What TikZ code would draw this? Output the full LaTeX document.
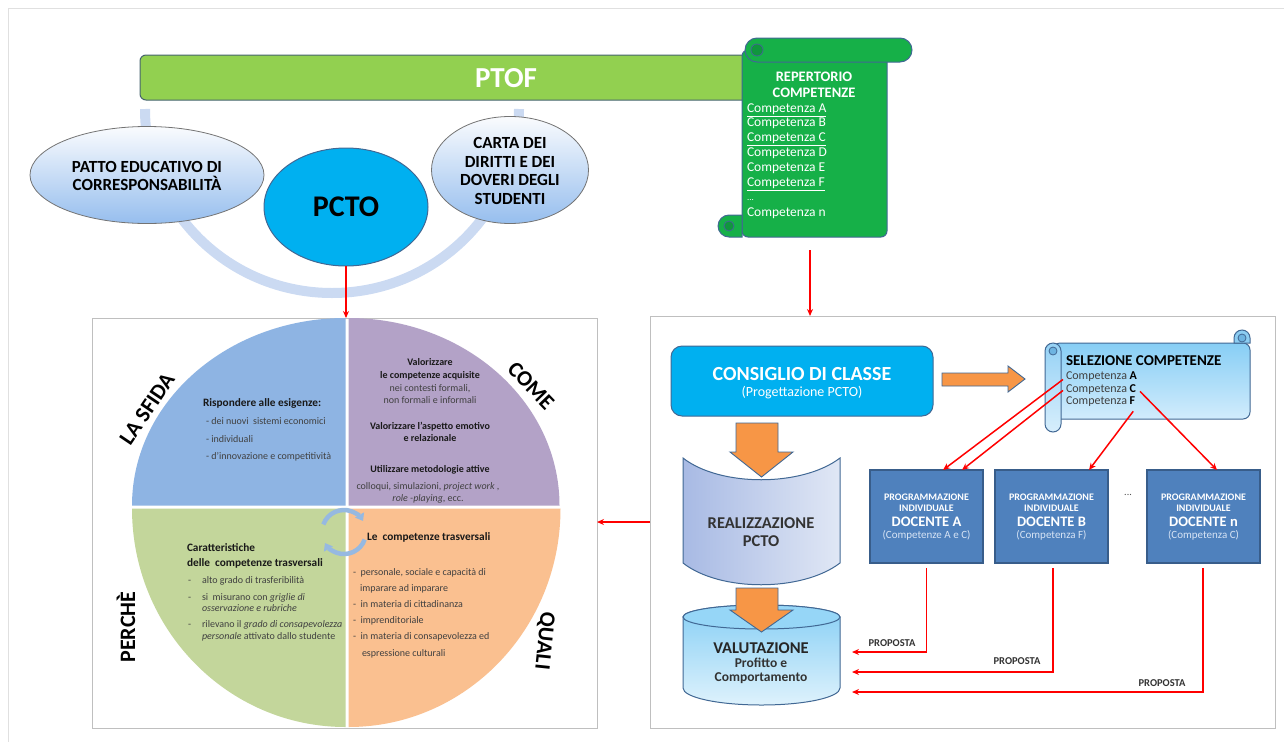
\documentclass[tikz,border=0pt]{standalone}
\usepackage{fontspec}
\setmainfont{Carlito}
\usetikzlibrary{arrows.meta,shapes.geometric,calc}
\definecolor{ptofgreen}{RGB}{146,208,80}
\definecolor{ptofedge}{RGB}{70,100,110}
\definecolor{scrollgreen}{RGB}{22,176,72}
\definecolor{scrolldark}{RGB}{16,150,62}
\definecolor{edgeblue}{RGB}{65,104,148}
\definecolor{pctocyan}{RGB}{0,176,240}
\definecolor{haloblue}{RGB}{203,218,242}
\definecolor{qblue}{RGB}{142,180,227}
\definecolor{qpurple}{RGB}{179,162,199}
\definecolor{qgreen}{RGB}{195,214,155}
\definecolor{qorange}{RGB}{250,192,144}
\definecolor{cycblue}{RGB}{150,185,225}
\definecolor{arrorange}{RGB}{247,150,70}
\definecolor{docblue}{RGB}{79,129,189}
\definecolor{docedge}{RGB}{56,93,138}
\definecolor{docsub}{RGB}{215,228,245}
\definecolor{linered}{RGB}{255,0,0}
\definecolor{framegray}{RGB}{191,191,191}
\definecolor{txtgray}{RGB}{64,64,64}
\newcommand\fsz[2]{\fontsize{#1}{#2}\selectfont}

\begin{document}
\begin{tikzpicture}[x=1pt,y=-1pt,
  every node/.style={inner sep=0pt, outer sep=0pt},
  pagefr/.style={draw=black!12, line width=0.8},
  panel/.style={draw=framegray, line width=1, fill=white},
  halo/.style={draw=haloblue, line width=10},
  ptofbar/.style={draw=ptofedge, line width=1, fill=ptofgreen, rounded corners=6},
  oval/.style={ellipse, draw=black!55, line width=0.8, top color=white!90!haloblue, bottom color={rgb,255:red,150;green,190;blue,238}},
  ovaltext/.style={align=center, font=\fsz{17}{18.8}\bfseries, text=black},
  scr/.style={draw=edgeblue, line width=1, fill=scrollgreen},
  scrd/.style={draw=edgeblue, line width=0.8, fill=scrolldark},
  reptitle/.style={font=\fsz{14.5}{16}\bfseries, text=white},
  repitem/.style={anchor=mid west, font=\fsz{13.5}{15}, text=white},
  redarr/.style={draw=linered, line width=1.5, -{Stealth[length=7,width=6]}},
  qb/.style={font=\fsz{11.3}{13}\bfseries, text=black!90},
  qbp/.style={font=\fsz{10}{12}\bfseries, text=black!90},
  qn/.style={font=\fsz{10}{12}, text=txtgray},
  biglab/.style={font=\fsz{22}{24}\bfseries, text=black},
  cyc/.style={draw=cycblue, line width=4.5, -{Triangle[length=7,width=10]}},
  blockarr/.style={draw=edgeblue, line width=0.9, fill=arrorange},
  docbox/.style={draw=docedge, line width=1.2, fill=docblue, minimum width=113, minimum height=93},
  docsmall/.style={font=\fsz{10}{11}\bfseries, text=white},
  docbig/.style={font=\fsz{14.5}{16}\bfseries, text=white},
  docnote/.style={font=\fsz{11}{12}, text=docsub},
  seltext/.style={anchor=mid west, font=\fsz{12}{13}, text=txtgray},
  proplab/.style={font=\fsz{10.5}{12}\bfseries, text=black!80}
]
\useasboundingbox (0,0) rectangle (1284,742);

% page edge
\draw[pagefr] (8,742) -- (8,8) -- (1284,8);

% halo ring behind the three documents
\draw[halo] (145,109) arc[start angle=180,end angle=0,x radius=187,y radius=184];

% PTOF bar
\node[ptofbar, minimum width=625, minimum height=45, anchor=north west] (ptof) at (140,55) {};
\node[font=\fsz{29}{30}\bfseries, text=white] (ptoflab) at (506,78) {PTOF};

% documents around PCTO
\node[oval, minimum width=234, minimum height=97] (patto) at (147,175) {};
\node[ovaltext] (pattolab) at (147,176) {PATTO EDUCATIVO DI\\CORRESPONSABILITÀ};
\node[ellipse, draw=edgeblue, line width=1, fill=pctocyan, minimum width=164, minimum height=118,
      font=\fsz{30}{30}\bfseries] (pcto) at (346,207) {PCTO};
\node[oval, minimum width=157, minimum height=107] (carta) at (510,170) {};
\node[ovaltext] (cartalab) at (510,171) {CARTA DEI\\DIRITTI E DEI\\DOVERI DEGLI\\STUDENTI};

% scroll: repertorio competenze
\draw[scr, rounded corners=6] (742,50) -- (742,237) -- (887,237) -- (887,50) -- cycle;
\draw[scr] (757,38) -- (900,38) arc[start angle=270,end angle=450,radius=12]
      -- (757,62) arc[start angle=90,end angle=270,radius=12] -- cycle;
\draw[scrd] (757,50) circle[radius=6];
\draw[scr] (742,215) -- (729,215) arc[start angle=270,end angle=90,radius=11] -- (742,237) -- cycle;
\draw[scrd] (729,226) circle[radius=5];
\node[reptitle] (rep1) at (814,77) {REPERTORIO};
\node[reptitle] (rep2) at (814,93) {COMPETENZE};
\node[repitem] (cA) at (747,110) {\underline{Competenza A}};
\node[repitem] (cB) at (747,124) {Competenza B};
\node[repitem] (cC) at (747,139) {\underline{Competenza C}};
\node[repitem] (cD) at (747,154) {Competenza D};
\node[repitem] (cE) at (747,169) {Competenza E};
\node[repitem] (cF) at (747,184) {\underline{Competenza F}};
\node[repitem, font=\fsz{9}{10}] (cdots) at (747,198) {...};
\node[repitem] (cn) at (747,214) {Competenza n};
\coordinate (repfoot) at (810,250);

% the two panels
\node[panel, minimum width=505, minimum height=410] (lframe) at (344.5,523) {};
\node[panel, minimum width=625, minimum height=412] (rframe) at (962.5,522) {};

\draw[redarr] (pcto.south) -- (pcto.south |- lframe.north);
\draw[redarr] (repfoot) -- (repfoot |- rframe.north);
\draw[redarr] (rframe.west |- 0,522) -- (lframe.east |- 0,522);

% four quadrants
\fill[qblue] (345.5,505.5) -- (345.5,318) arc[start angle=270,end angle=180,x radius=213.5,y radius=187.5] -- cycle;
\fill[qpurple] (348.5,505.5) -- (348.5,318) arc[start angle=270,end angle=360,x radius=211,y radius=187.5] -- cycle;
\fill[qgreen] (345.5,508.5) -- (132,508.5) arc[start angle=180,end angle=90,x radius=213.5,y radius=218.5] -- cycle;
\fill[qorange] (348.5,508.5) -- (348.5,727) arc[start angle=90,end angle=0,x radius=212,y radius=218.5] -- cycle;

% cycle icon
\draw[cyc] (344,532) ++(200:22) arc[start angle=200,end angle=330,radius=22];
\draw[cyc] (344,532) ++(20:22) arc[start angle=20,end angle=150,radius=22];

% quadrant labels
\node[biglab, rotate=56] (sfida) at (147,409) {LA SFIDA};
\node[biglab, rotate=-46] (come) at (531,386) {COME};
\node[biglab, rotate=90] (perche) at (126,627) {PERCHÈ};
\node[biglab, rotate=-96] (quali) at (544,641) {QUALI};

% la sfida
\node[qb, anchor=mid west] (s1) at (203,404) {Rispondere alle esigenze:};
\node[qn, anchor=mid west] (s2) at (206,422) {- dei nuovi\ \ sistemi economici};
\node[qn, anchor=mid west] (s3) at (206,440) {- individuali};
\node[qn, anchor=mid west] (s4) at (206,457) {- d’innovazione e competitività};

% come
\node[qbp, anchor=mid] (m1) at (430,363) {Valorizzare};
\node[qbp, anchor=mid] (m2) at (430,376) {le competenze acquisite};
\node[qn, anchor=mid] (m3) at (430,389) {nei contesti formali,};
\node[qn, anchor=mid] (m4) at (430,401) {non formali e informali};
\node[qbp, anchor=mid] (m5) at (430,427) {Valorizzare l’aspetto emotivo};
\node[qbp, anchor=mid] (m6) at (430,439) {e relazionale};
\node[qbp, anchor=mid] (m7) at (430,470) {Utilizzare metodologie attive};
\node[qn, anchor=mid] (m8) at (428,487) {colloqui, simulazioni, \textit{project work} ,};
\node[qn, anchor=mid] (m9) at (428,499) {\textit{role -playing}, ecc.};

% perche
\node[qb, anchor=mid west] (p1) at (187,549) {Caratteristiche};
\node[qb, anchor=mid west] (p2) at (187,564) {delle\ \ competenze trasversali};
\node[qn, anchor=mid west] (p3d) at (188,581) {-};
\node[qn, anchor=mid west] (p3) at (202,581) {alto grado di trasferibilità};
\node[qn, anchor=mid west] (p4d) at (188,598) {-};
\node[qn, anchor=mid west] (p4) at (202,598) {si\ \ misurano con \textit{griglie di}};
\node[qn, anchor=mid west] (p5) at (202,609) {\textit{osservazione e rubriche}};
\node[qn, anchor=mid west] (p6d) at (188,625) {-};
\node[qn, anchor=mid west] (p6) at (202,625) {rilevano il \textit{grado di consapevolezza}};
\node[qn, anchor=mid west] (p7) at (202,637) {\textit{personale} attivato dallo studente};

% quali
\node[qb, anchor=mid west] (q1) at (367,538) {Le\ \ competenze trasversali};
\node[qn, anchor=mid west] (q2) at (353,573) {-\ \ personale, sociale e capacità di};
\node[qn, anchor=mid west] (q3) at (360,589) {imparare ad imparare};
\node[qn, anchor=mid west] (q4) at (353,605) {-\ \ in materia di cittadinanza};
\node[qn, anchor=mid west] (q5) at (353,621) {-\ \ imprenditoriale};
\node[qn, anchor=mid west] (q6) at (353,637) {-\ \ in materia di consapevolezza ed};
\node[qn, anchor=mid west] (q7) at (362,654) {espressione culturali};

% consiglio di classe
\node[draw=edgeblue, line width=1, fill=pctocyan, rounded corners=11, minimum width=262, minimum height=70] (cdc) at (802,381) {};
\node[font=\fsz{20}{22}\bfseries, text=white] (cdc1) at (802,374) {CONSIGLIO DI CLASSE};
\node[font=\fsz{14}{16}, text=white] (cdc2) at (802,393) {(Progettazione PCTO)};

% block arrow to the selection
\draw[blockarr] (942,373) -- (1008,373) -- (1008,366) -- (1025,379) -- (1008,392) -- (1008,386) -- (942,386) -- cycle;

% selection scroll
\draw[draw=edgeblue, line width=1, top color={rgb,255:red,135;green,206;blue,245}, bottom color={rgb,255:red,210;green,236;blue,252}, rounded corners=7]
     (1053,343) -- (1250,343) -- (1250,419) -- (1053,419) -- cycle;
\draw[draw=edgeblue, line width=1, fill={rgb,255:red,140;green,205;blue,242}]
     (1234,343) -- (1234,338) arc[start angle=180,end angle=360,radius=8] -- (1250,343) -- cycle;
\draw[draw=edgeblue, line width=0.8, fill={rgb,255:red,110;green,180;blue,225}] (1242,338) circle[radius=4];
\draw[draw=edgeblue, line width=1, top color={rgb,255:red,150;green,210;blue,245}, bottom color={rgb,255:red,215;green,238;blue,252}]
     (1045,351) -- (1045,424) arc[start angle=180,end angle=0,radius=8] -- (1061,351) arc[start angle=0,end angle=-180,radius=8] -- cycle;
\draw[draw=edgeblue, line width=0.8, fill={rgb,255:red,110;green,180;blue,225}] (1053,351) circle[radius=4];
\node[anchor=mid west, font=\fsz{15}{16}\bfseries, text=black] (seltitle) at (1066,363) {SELEZIONE COMPETENZE};
\node[seltext] (selA) at (1066,377) {Competenza \textbf{\color{black}A}};
\node[seltext] (selC) at (1066,390) {Competenza \textbf{\color{black}C}};
\node[seltext] (selF) at (1066,402) {Competenza \textbf{\color{black}F}};

% realizzazione
\path[draw=edgeblue, line width=1, left color={rgb,255:red,168;green,186;blue,228}, right color={rgb,255:red,224;green,231;blue,245}]
     (683,458) -- (683,563) .. controls (720,592) and (802,592) .. (840,563)
     -- (840,458) .. controls (802,487) and (720,487) .. (683,458) -- cycle;
\node[font=\fsz{16.5}{18}\bfseries, text=black!80] (real1) at (761,523) {REALIZZAZIONE};
\node[font=\fsz{16.5}{18}\bfseries, text=black!80] (real2) at (761,541) {PCTO};

% valutazione
\path[draw=edgeblue, line width=1, top color={rgb,255:red,135;green,207;blue,245}, bottom color={rgb,255:red,222;green,242;blue,252}]
     (683,617) -- (683,688) arc[start angle=180,end angle=0,x radius=78.5,y radius=17]
     -- (840,617) arc[start angle=0,end angle=-180,x radius=78.5,y radius=12] -- cycle;
\draw[draw=edgeblue, line width=1, fill={rgb,255:red,150;green,214;blue,247}] (761.5,617) ellipse[x radius=78.5,y radius=12];
\node[font=\fsz{16.5}{18}\bfseries, text=black!85] (val1) at (761,648) {VALUTAZIONE};
\node[font=\fsz{13.5}{15}\bfseries, text=black!80] (val2) at (761,663) {Profitto e};
\node[font=\fsz{13.5}{15}\bfseries, text=black!80] (val3) at (761,678) {Comportamento};

% orange arrows between the steps
\draw[blockarr] (736,423) -- (778,423) -- (778,452) -- (793,452) -- (761.5,477) -- (730,452) -- (736,452) -- cycle;
\draw[blockarr] (736,588) -- (778,588) -- (778,610) -- (793,610) -- (761.5,632) -- (730,610) -- (736,610) -- cycle;

% individual planning boxes
\node[docbox] (docA) at (926.5,516.5) {};
\node[docbox] (docB) at (1051.5,516.5) {};
\node[docbox] (docN) at (1203.5,516.5) {};
\foreach \b/\who/\what in {docA/A/Competenze A e C, docB/B/Competenza F, docN/n/Competenza C}{
  \node[docsmall] (\b-l1) at ([yshift=19.5]\b.center) {PROGRAMMAZIONE};
  \node[docsmall] (\b-l2) at ([yshift=8.5]\b.center) {INDIVIDUALE};
  \node[docbig] (\b-l3) at ([yshift=-5.5]\b.center) {DOCENTE \who};
  \node[docnote] (\b-l4) at ([yshift=-19]\b.center) {(\what)};
}
\node[font=\fsz{10}{11}, text=black!70] (docdots) at (1128,495) {...};

% selected competences to the teachers
\draw[redarr] ([xshift=-3,yshift=-3]selA.west) -- ([xshift=16.5]docA.north);
\draw[redarr] ([xshift=-3,yshift=-1]selC.west) -- ([xshift=35.5]docA.north);
\draw[redarr] ([xshift=4,yshift=-2]selC.east) -- ([xshift=13.5]docN.north);
\draw[redarr] ([xshift=-2,yshift=-5]selF.south east) -- ([xshift=37.5]docB.north);

% proposals back to the evaluation
\coordinate (vin) at (852,0);
\draw[redarr] (docA.south) ++(0,5) |- (vin |- 0,652);
\draw[redarr] (docB.south) ++(1.5,5) |- (vin |- 0,672);
\draw[redarr] (docN.south) ++(-0.5,5) |- (vin |- 0,692);
\node[proplab] (pr1) at (892,643) {PROPOSTA};
\node[proplab] (pr2) at (1017,661) {PROPOSTA};
\node[proplab] (pr3) at (1162,683) {PROPOSTA};
\end{tikzpicture}
\end{document}
